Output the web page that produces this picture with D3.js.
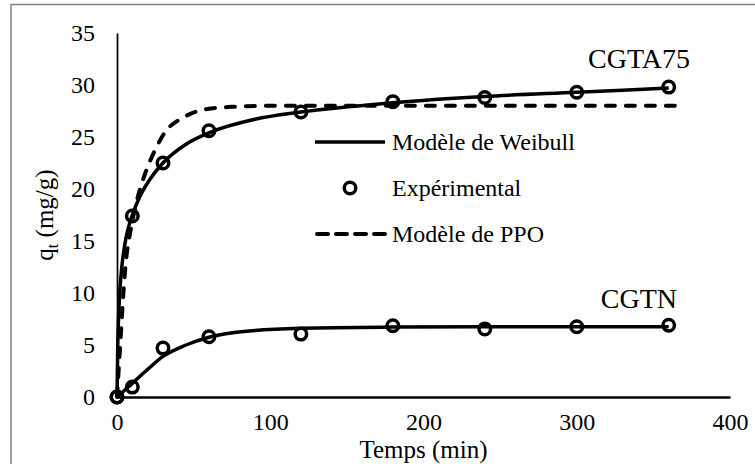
<!DOCTYPE html>
<html>
<head>
<meta charset="utf-8">
<script src="https://cdn.jsdelivr.net/npm/d3@7"></script>
<style>
  html, body { margin: 0; padding: 0; background: #fff; }
  svg { display: block; font-family: "Liberation Serif", "Times New Roman", serif; }
</style>
</head>
<body>
<svg id="chart" width="755" height="464"></svg>
<script>
// Experimental sampling times (min) and measured uptake q_t (mg/g)
const expTimes   = [0, 10, 30, 60, 120, 180, 240, 300, 360];
const expCGTA75  = [0, 17.4, 22.5, 25.6, 27.4, 28.4, 28.8, 29.3, 29.8];
const expCGTN    = [0, 0.95, 4.7, 5.8, 6.05, 6.85, 6.55, 6.75, 6.9];

// Weibull model curves
const weibullTimesA = [0, 0.5, 1, 2, 3, 4, 6, 8, 10, 15, 20, 30, 45, 60, 90, 120, 180, 240, 300, 360];
const weibullCGTA75 = [0, 5.0, 7.5, 10.5, 12.3, 13.6, 15.4, 16.6, 17.5, 19.3, 20.6, 22.5, 24.3, 25.4, 26.7, 27.4, 28.3, 28.9, 29.3, 29.7];
const weibullTimesN = [0, 5, 10, 15, 20, 30, 45, 60, 90, 120, 180, 240, 300, 360];
const weibullCGTN   = [0, 0.65, 1.3, 2.0, 2.65, 3.9, 5.0, 5.75, 6.4, 6.62, 6.72, 6.75, 6.75, 6.75];

// PPO model curve (CGTA75)
const ppoTimes  = [0, 1, 2, 3, 4, 6, 8, 10, 13, 17, 21, 25, 32, 40, 46, 59, 75, 100, 150, 200, 250, 300, 364];
const ppoCGTA75 = [0, 2.4, 4.8, 7.2, 9.6, 13.3, 15.3, 16.9, 18.9, 20.9, 22.5, 23.8, 25.6, 26.6, 27.1, 27.7, 27.9, 28.0, 28.0, 28.0, 28.0, 28.0, 28.0];

// Axis ticks
const xTicks = [0, 100, 200, 300, 400];
const yTicks = [0, 5, 10, 15, 20, 25, 30, 35];

const svg = d3.select("#chart");

// Outer chart frame
svg.append("rect")
  .attr("x", 11).attr("y", 4.5)
  .attr("width", 800).attr("height", 500)
  .attr("fill", "#fff")
  .attr("stroke", "#808080")
  .attr("stroke-width", 1.5);

const x = d3.scaleLinear().domain([0, 400]).range([117, 730]);
const y = d3.scaleLinear().domain([0, 35]).range([397, 33]);

// Axes (lines only, no tick marks)
const xAxis = d3.axisBottom(x).tickValues(xTicks).tickSize(0).tickPadding(16);
const yAxis = d3.axisLeft(y).tickValues(yTicks).tickSize(0).tickPadding(22);

const gx = svg.append("g").attr("transform", `translate(0,${y(0)})`).call(xAxis);
const gy = svg.append("g").attr("transform", `translate(${x(0)},0)`).call(yAxis);

gx.select(".domain").attr("stroke", "#000").attr("stroke-width", 2.5);
gy.select(".domain").attr("stroke", "#000").attr("stroke-width", 1.75);
[gx, gy].forEach(g => g.selectAll("text")
  .attr("font-family", "Liberation Serif, Times New Roman, serif")
  .attr("font-size", 24)
  .attr("fill", "#000"));

// Axis titles
svg.append("text")
  .attr("x", (x(0) + x(400)) / 2).attr("y", 458)
  .attr("text-anchor", "middle")
  .attr("font-size", 25)
  .text("Temps (min)");

const yTitle = svg.append("text")
  .attr("transform", `translate(53,${(y(0) + y(35)) / 2}) rotate(-90)`)
  .attr("text-anchor", "middle")
  .attr("font-size", 25);
yTitle.append("tspan").text("q");
yTitle.append("tspan").attr("font-size", 16).attr("dy", 5).text("t");
yTitle.append("tspan").attr("dy", -5).text(" (mg/g)");

// Curves
const line = d3.line()
  .x(d => x(d[0]))
  .y(d => y(d[1]))
  .curve(d3.curveMonotoneX);

const zip = (a, b) => a.map((v, i) => [v, b[i]]);

svg.append("path")
  .datum(zip(ppoTimes, ppoCGTA75))
  .attr("d", line)
  .attr("fill", "none")
  .attr("stroke", "#000")
  .attr("stroke-width", 4)
  .attr("stroke-linecap", "round")
  .attr("stroke-dasharray", "9 11");

[[weibullTimesA, weibullCGTA75], [weibullTimesN, weibullCGTN]].forEach(([t, q]) => {
  svg.append("path")
    .datum(zip(t, q))
    .attr("d", line)
    .attr("fill", "none")
    .attr("stroke", "#000")
    .attr("stroke-width", 3.5);
});

// Experimental points
[expCGTA75, expCGTN].forEach(q => {
  svg.append("g").selectAll("circle")
    .data(zip(expTimes, q))
    .join("circle")
    .attr("cx", d => x(d[0]))
    .attr("cy", d => y(d[1]))
    .attr("r", 5.75)
    .attr("fill", "none")
    .attr("stroke", "#000")
    .attr("stroke-width", 3.5);
});

// Series labels
svg.append("text").attr("x", 690).attr("y", 68).attr("text-anchor", "end")
  .attr("font-size", 28).text("CGTA75");
svg.append("text").attr("x", 677).attr("y", 308).attr("text-anchor", "end")
  .attr("font-size", 28).text("CGTN");

// Legend
const legend = svg.append("g");
const legendItems = [
  { label: "Modèle de Weibull", type: "solid", yc: 142 },
  { label: "Expérimental", type: "point", yc: 188 },
  { label: "Modèle de PPO", type: "dash", yc: 234 }
];
legendItems.forEach(it => {
  if (it.type === "point") {
    legend.append("circle").attr("cx", 350).attr("cy", it.yc).attr("r", 5.75)
      .attr("fill", "none").attr("stroke", "#000").attr("stroke-width", 3.5);
  } else {
    legend.append("line")
      .attr("x1", it.type === "dash" ? 317 : 315).attr("x2", 385)
      .attr("y1", it.yc).attr("y2", it.yc)
      .attr("stroke", "#000")
      .attr("stroke-width", it.type === "dash" ? 4 : 3.5)
      .attr("stroke-linecap", it.type === "dash" ? "round" : "butt")
      .attr("stroke-dasharray", it.type === "dash" ? "11 8" : null);
  }
  legend.append("text")
    .attr("x", 392).attr("y", it.yc + 8)
    .attr("font-size", 24)
    .text(it.label);
});
</script>
</body>
</html>
